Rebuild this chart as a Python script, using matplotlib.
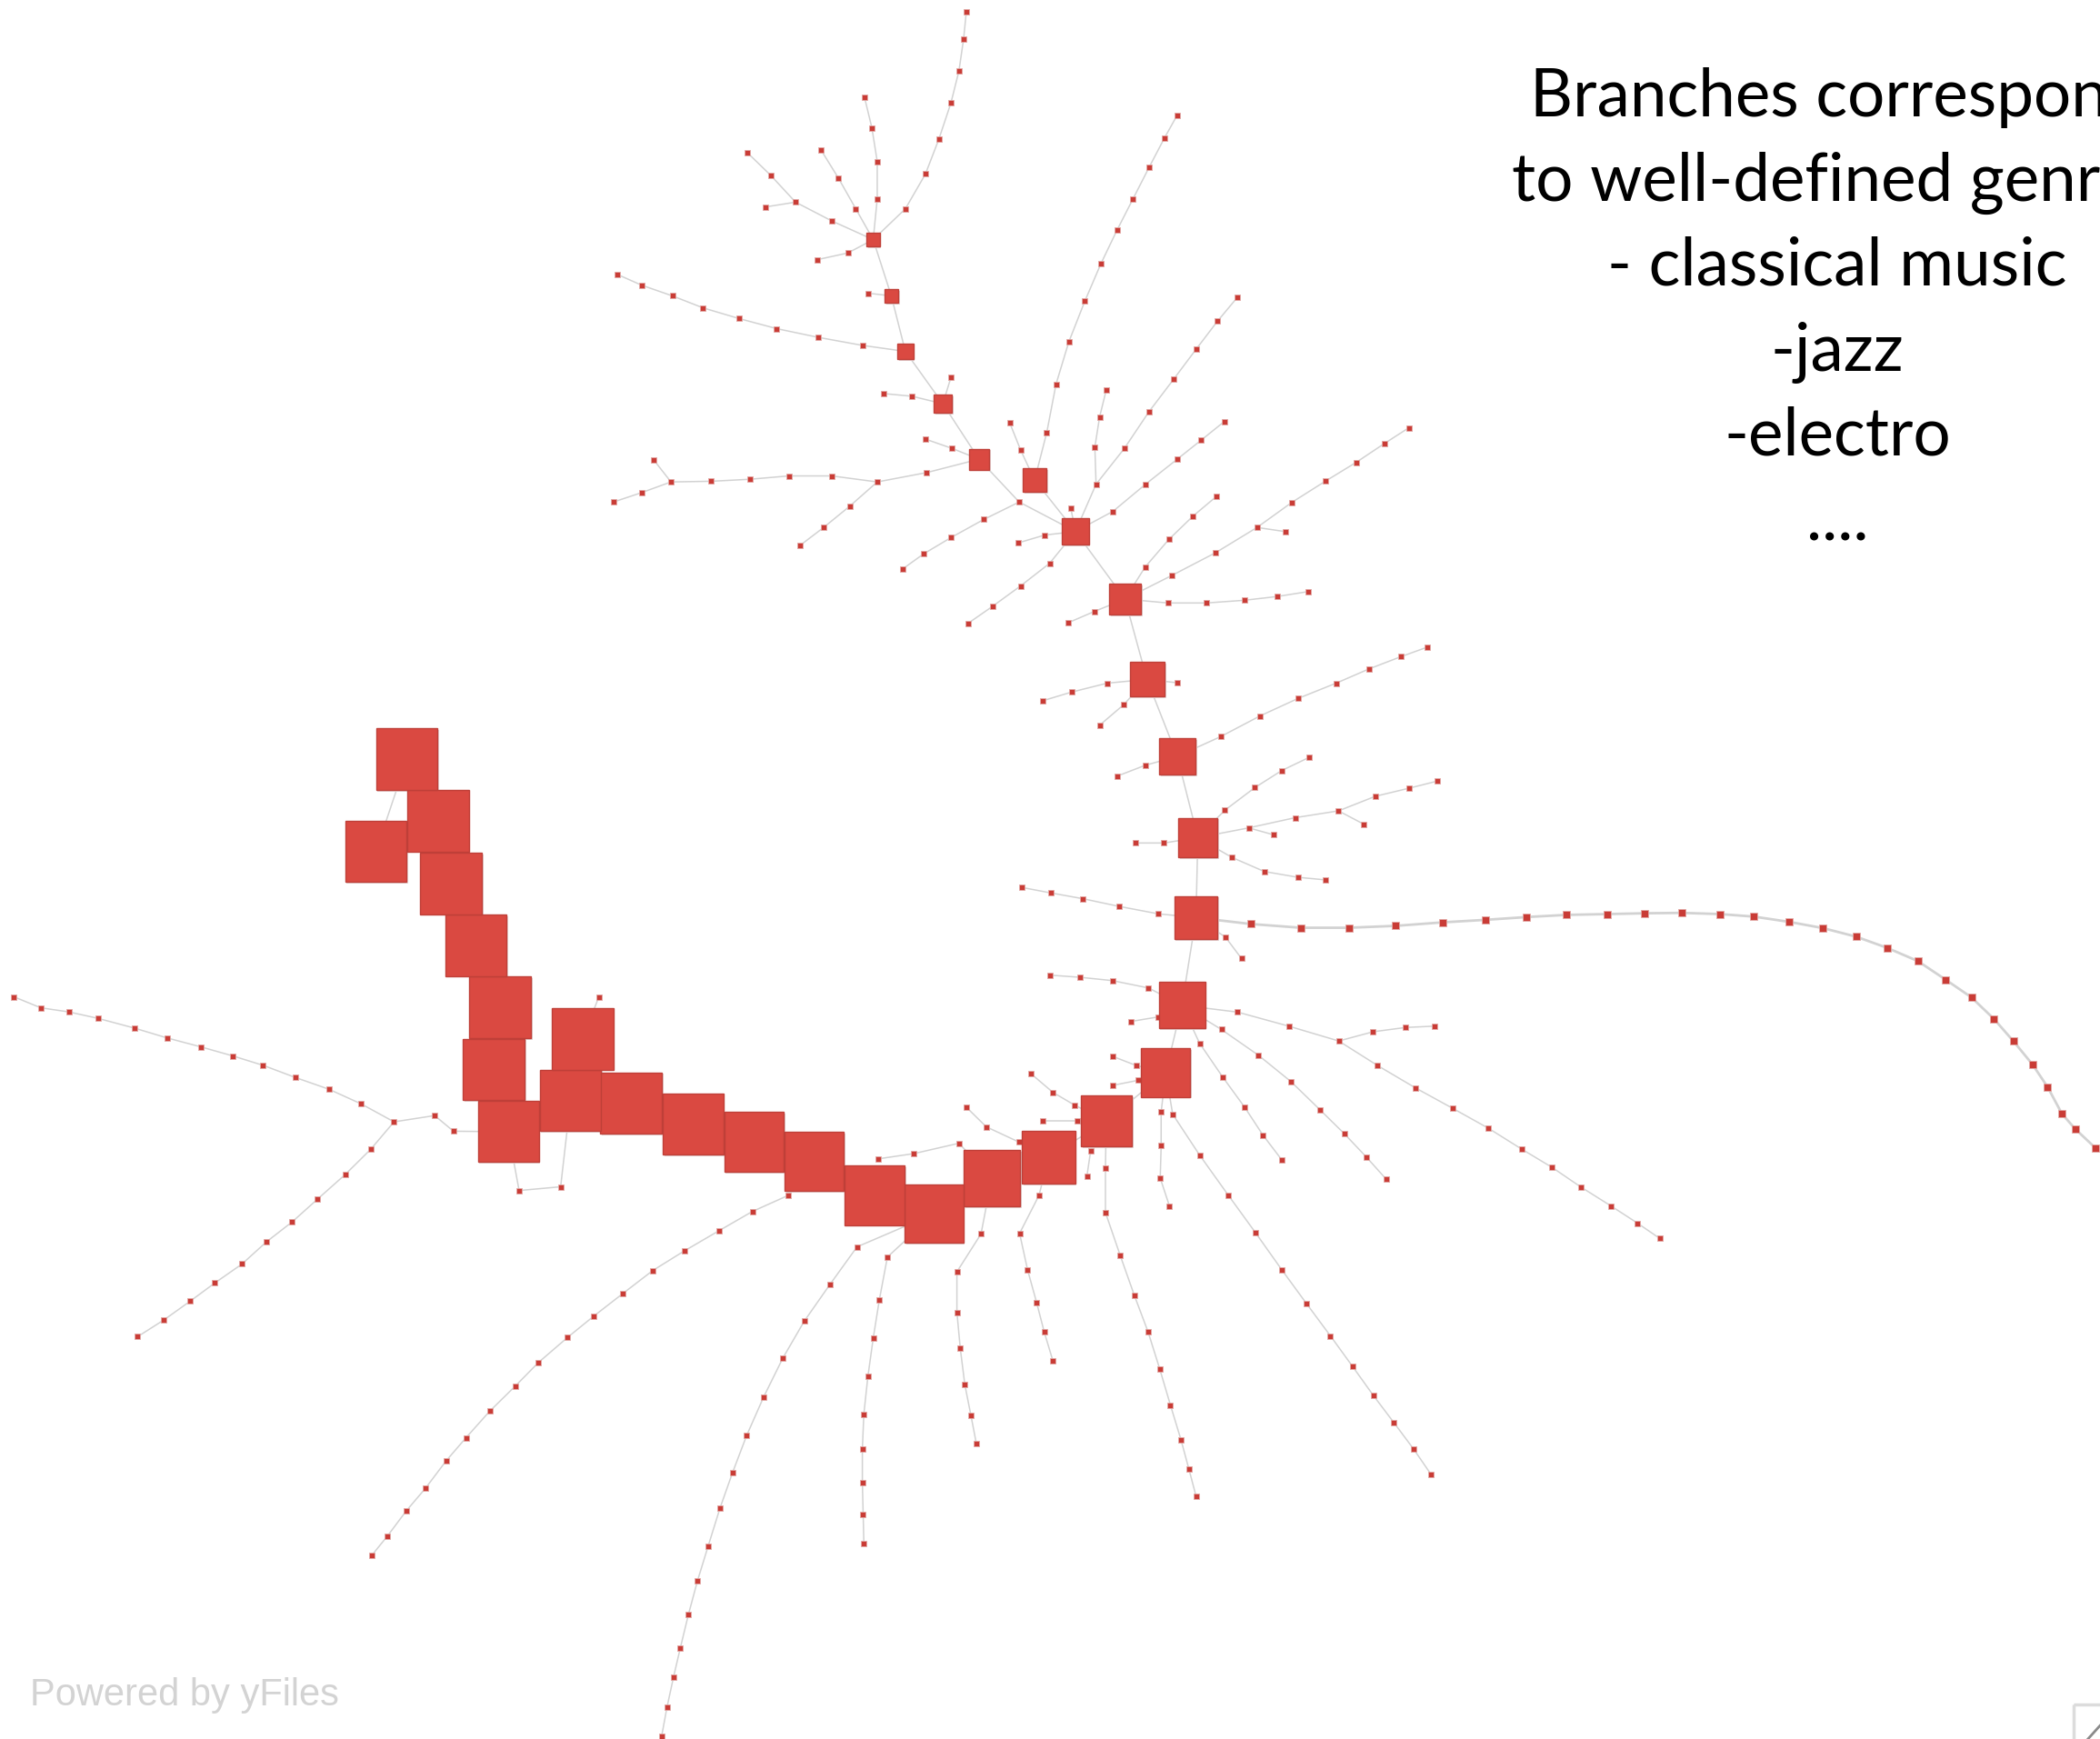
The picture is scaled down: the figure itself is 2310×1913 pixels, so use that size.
import matplotlib
matplotlib.use("Agg")
import matplotlib.pyplot as plt
from matplotlib.patches import Rectangle

# Layout units are the pixels of the 1568x1299 screenshot of the yFiles view.
W, H = 1568, 1299

# Backbone ("hub") nodes: centre and side length of each square
hub_x = [652, 665.5, 676, 704, 731, 772.5, 803, 840, 856.4, 879, 894.4, 893,
         882.5, 870.4, 826, 783, 740.5, 697.5, 653, 608, 563, 517.6, 471, 426,
         435, 379.5, 368.8, 373.4, 355.3, 336.6, 327, 280.7, 303.8]
hub_y = [179, 221, 262.5, 301.6, 343, 358.6, 397, 447.5, 507.5, 565, 625.7, 685.4,
         750.9, 801.1, 837.5, 864.2, 880, 906.7, 892.8, 867.6, 853, 839.7, 824, 822,
         776, 845.4, 798.9, 752.6, 706, 659.8, 613, 636, 567]
hub_side = [9.7, 10, 11.8, 13.3, 15.5, 18, 19.7, 23.4, 25.9, 27.3, 29.6, 32.4,
            34.5, 36.5, 38, 39.5, 42.3, 43.6, 44.5, 44.3, 44.6, 45, 46, 46,
            46, 45.5, 46, 46, 46, 46, 46, 46, 46]
hub_edges = [(0, 1), (1, 2), (2, 3), (3, 4), (5, 6), (6, 7), (7, 8), (8, 9),
             (9, 10), (10, 11), (11, 12), (12, 13), (13, 14), (14, 15), (15, 16),
             (16, 17), (17, 18), (18, 19), (19, 20), (20, 21), (21, 22), (22, 23),
             (23, 24), (23, 25), (25, 26), (26, 27), (27, 28), (28, 29), (29, 30),
             (30, 32), (32, 31)]

# Leaf chains; the first point of each is the node it hangs from
branches_top = [
    [(652, 179), (676, 156), (691, 130), (701, 104), (710, 77), (716, 53), (719.5, 29), (721.5, 9)],
    [(652, 179), (655, 148.5), (655, 120.6), (651, 95.5), (645.5, 72.7)],
    [(652, 179), (639, 156), (626, 133), (613, 112)],
    [(652, 179), (621, 165), (594, 151), (575.5, 131), (558, 114)],
    [(594, 151), (571.5, 154.6)],
    [(652, 179), (633, 189), (610, 194)],
    [(665.5, 221), (648, 219)],
    [(676, 262.5), (644, 258), (611, 252), (580, 245.5), (552, 238), (525, 230),
     (502, 221), (479, 213), (461, 205)],
    [(704, 301.6), (710, 282)],
    [(704, 301.6), (681, 296), (660, 294)],
    [(731, 343), (711, 335), (691, 328)],
    [(731, 343), (692, 353), (655, 360), (621, 355.5), (589, 355.5), (560, 358),
     (531, 359.5), (501, 360), (479, 368), (458, 375)],
    [(501, 360), (488, 343.4)],
    [(655, 360), (634.6, 378), (615, 394), (597, 407.7)],
    [(731, 343), (761, 375), (803, 397)],
    [(761, 375), (734.6, 388), (710, 401.6), (689.7, 413.7), (674, 425)],
    [(772.5, 358.6), (781.6, 323), (788.5, 287), (798, 255.5), (810, 225), (822, 197),
     (834, 172), (846, 148.5), (858, 125), (869.5, 103), (879, 86)],
    [(772.5, 358.6), (762, 336), (754, 316)],
    [(803, 397), (818.4, 361.7), (817.5, 334), (821, 311.6), (826, 291.3)],
    [(818.4, 361.7), (839.5, 335), (858, 307.4), (876.6, 282.9), (893, 261), (909, 240), (924, 222)],
    [(803, 397), (831, 382), (855, 362), (879, 343), (897, 328.7), (914, 315)],
    [(803, 397), (799.5, 379.4)],
    [(803, 397), (780, 399.7), (760, 405.6)],
    [(803, 397), (783.7, 420.8), (762, 437.7), (741, 453), (722.6, 465.8)],
]

branches_mid = [
    [(840, 447.5), (855, 423.6), (872.7, 403), (890.7, 385.6), (908.4, 370.7)],
    [(840, 447.5), (874.7, 430), (907.6, 412.9), (938.6, 394), (964.7, 375.2), (990, 359.2),
     (1012.6, 345.4), (1033.7, 331.3), (1052, 319.5)],
    [(938.6, 394), (959.7, 397.1)],
    [(840, 447.5), (872, 450.4), (900.8, 450.4), (929, 448.4), (953.5, 445.6), (976.8, 441.9)],
    [(840, 447.5), (817, 456.8), (797.3, 465.3)],
    [(856.4, 507.5), (826.8, 510.3), (800, 517), (778.4, 523.5)],
    [(856.4, 507.5), (839, 526.4), (821, 541.8)],
    [(856.4, 507.5), (879, 510)],
    [(879, 565), (911.3, 550.3), (940.8, 534.8), (969.5, 521.6), (997.7, 510.3),
     (1022.4, 499.6), (1045.8, 490.6), (1066, 483.3)],
    [(879, 565), (855, 571.7), (834, 579.8)],
    [(894.4, 625.7), (914.6, 605.2), (937, 588.3), (957, 575.6), (977.4, 565.8)],
    [(894.4, 625.7), (932.4, 618.4), (967, 610.8), (999.4, 605.7), (1027, 594.8),
     (1052, 588.8), (1073, 583.5)],
    [(999.4, 605.7), (1018.2, 615.6)],
    [(932.4, 618.4), (950.7, 623.5)],
    [(894.4, 625.7), (919.7, 640.4), (944, 651), (969, 655.3), (990, 657.3)],
    [(894.4, 625.7), (869, 629.7), (848, 629.7)],
    [(893, 685.4), (864.8, 682.6), (835.3, 677), (808.5, 671.3), (784.6, 667), (763, 662.9)],
    [(893, 685.4), (915, 700), (927, 716)],
]

# the long heavy chain running off to the right edge
tail_chain = [(893, 685.4), (933.8, 690.2), (971.2, 693), (1007, 693), (1042, 691.6),
              (1077, 689), (1109.3, 687.1), (1140, 685), (1169.8, 683.4), (1200, 682.8),
              (1228.2, 682.2), (1255.9, 681.9), (1284.5, 682.8), (1309.7, 684.7),
              (1335.8, 688.6), (1361.3, 693.3), (1386, 699.7), (1409, 708), (1432, 717.9),
              (1452.6, 731.7), (1472, 745), (1488.9, 761.2), (1503.4, 777.8), (1517.5, 795),
              (1528.9, 812), (1539.6, 832), (1549.5, 843.3), (1564.8, 857.7)]

branches_low = [
    [(882.5, 750.9), (857.6, 738), (830.6, 732.5), (806.3, 730), (783.8, 728.4)],
    [(882.5, 750.9), (865, 759.6), (844.4, 763)],
    [(882.5, 750.9), (924, 756), (962.2, 766.5), (999.6, 777.6), (1028.7, 796), (1056.8, 812.6),
     (1084.5, 827.8), (1111.2, 842.7), (1136.1, 858.3), (1159, 872.1), (1180.4, 886.7),
     (1203, 900.9), (1222.7, 913.7), (1239.3, 925.1)],
    [(999.6, 777.6), (1025.3, 770.7), (1049.5, 767.5), (1071.3, 766.5)],
    [(882.5, 750.9), (912, 769), (939.7, 788.3), (964, 808), (985.4, 828.8), (1003.8, 846.9),
     (1020.4, 864.5), (1035, 880.8)],
    [(882.5, 750.9), (895.7, 779.3), (913, 804.6), (929.3, 827), (943, 847.9), (957, 866.3)],
    [(870.4, 801.1), (875.6, 832.3), (895.7, 862.8), (917.2, 892.9), (937.3, 920.6), (957, 948.4),
     (975.4, 973.6), (993.4, 997.9), (1009.7, 1020.4), (1025.6, 1042.6), (1040.8, 1062.7),
     (1055.7, 1082.7), (1068.6, 1101.5)],
    [(870.4, 801.1), (867, 830.6), (867, 855.9), (866.3, 880), (873.2, 900.9)],
    [(870.4, 801.1), (848.6, 796), (830.6, 789)],
    [(870.4, 801.1), (849.6, 807), (830.6, 810.8)],
    [(826, 837.5), (802.2, 825.4), (786.2, 816), (770, 802.2)],
    [(826, 837.5), (804.6, 837.5), (778.6, 837.5)],
    [(826, 837.5), (825.4, 872.8), (825.4, 905.7), (836.5, 938), (846.9, 967.4), (857.3, 995.1),
     (866, 1022.8), (873.9, 1049.5), (881.8, 1075.5), (887.7, 1097.3), (893, 1117.4)],
    [(826, 837.5), (814.3, 860), (811.5, 879)],
    [(783, 864.2), (775.8, 892.9), (761.3, 921.3), (767.2, 948.3), (774.1, 973.3),
     (779.7, 995), (786.2, 1016.6)],
    [(783, 864.2), (760.6, 853), (736.4, 841.7), (721.5, 827)],
    [(740.5, 880), (732.5, 921.7), (714.5, 950), (714.5, 980.2), (717, 1007.2),
     (720.4, 1034.3), (725, 1057.5), (729, 1078.3)],
    [(740.5, 880), (716, 854), (682.4, 861.7), (656, 865.6)],
    [(697.5, 906.7), (662.6, 939), (656.6, 970.8), (652, 999.6), (648, 1028.4), (645, 1056.3),
     (643.9, 1082.3), (643.9, 1107.2), (644.5, 1131.4), (645, 1152.7)],
    [(697.5, 906.7), (639.9, 931.4), (619.6, 959.6), (600.5, 986.9), (584.4, 1014.7),
     (570.2, 1043.5), (557.5, 1072.3), (546.9, 1100.2), (537.5, 1126.8), (528.7, 1155.1),
     (520.8, 1180.8), (514.1, 1205.7), (508, 1230.9), (502.9, 1252.7), (498, 1275.4), (494, 1297)],
    [(608, 867.6), (588.4, 893), (561.7, 905), (536.9, 919.3), (511, 934.4), (487.5, 949),
     (465, 966.3), (443.5, 983), (423.8, 999), (402, 1017.8), (384.7, 1035.4), (365.6, 1054.2),
     (348, 1073.9), (333.2, 1091.1), (317.7, 1111.7), (303.5, 1128.4), (289.2, 1147.5),
     (277.7, 1161.7)],
]

branches_left = [
    [(379.5, 845.4), (387.6, 889.3), (418.6, 886.5), (426, 822)],
    [(379.5, 845.4), (338.6, 845), (324.6, 833.3), (294.2, 838)],
    [(294.2, 838), (269.7, 824.6), (245.5, 813.6), (220.4, 804.8), (196.5, 795.8), (174, 788.8),
     (150, 782), (124.7, 775.3), (100.5, 768), (73.2, 760.7), (51.5, 755.9), (30.4, 752.8),
     (10.4, 744.6)],
    [(294.2, 838), (276.7, 858.6), (257.6, 877.5), (237, 895.8), (218.2, 912.7), (199, 927.6),
     (180.7, 944.2), (160.5, 958.3), (142.2, 971.8), (122.5, 985.9), (102.7, 998.5)],
    [(435, 776), (447, 745)],
]

# the slide note is cut off by the right edge in the original screenshot
note_lines = ["Branches correspond", "to well-defined genres", "- classical music",
              "-jazz", "-electro", "...."]

EDGE = "#d2d2d2"
NODE = "#c93c36"
NODE_RIM = "#e2aaa6"
HUB = "#da4941"
HUB_RIM = "#bf3f38"


def draw_chain(ax, pts, lw, size, skip_last=False):
    xs = [p[0] for p in pts]
    ys = [p[1] for p in pts]
    ax.plot(xs, ys, color=EDGE, lw=lw, zorder=1, solid_capstyle="round")
    nx, ny = xs[1:], ys[1:]
    if skip_last:
        nx, ny = nx[:-1], ny[:-1]
    ax.scatter(nx, ny, s=size, marker="s", color=NODE, edgecolors=NODE_RIM,
               linewidths=0.6, zorder=2)


def main():
    fig = plt.figure(figsize=(23.1, 19.13), dpi=100)
    ax = fig.add_axes([0, 0, 1, 1])
    ax.set_xlim(0, W)
    ax.set_ylim(H, 0)
    ax.axis("off")

    for a, b in hub_edges:
        ax.plot([hub_x[a], hub_x[b]], [hub_y[a], hub_y[b]], color=EDGE, lw=1.1, zorder=1)

    for group in (branches_top, branches_mid, branches_low, branches_left):
        for pts in group:
            # chains that end on another hub should not get a dot there
            ends_on_hub = any(abs(pts[-1][0] - hx) < 0.5 and abs(pts[-1][1] - hy) < 0.5
                              for hx, hy in zip(hub_x, hub_y))
            draw_chain(ax, pts, 1.1, 13, skip_last=ends_on_hub)
    draw_chain(ax, tail_chain, 2.0, 36)

    # hubs: faint shadow then the red square
    for x, y, s in zip(hub_x, hub_y, hub_side):
        ax.add_patch(Rectangle((x - s / 2 + 1.2, y - s / 2 + 1.2), s, s,
                               facecolor="#e2d6d6", edgecolor="none", zorder=3))
        ax.add_patch(Rectangle((x - s / 2, y - s / 2), s, s, facecolor=HUB,
                               edgecolor=HUB_RIM, lw=1.0, zorder=4))

    baselines = [87, 150, 213, 277, 340, 404]
    for line, yb in zip(note_lines, baselines):
        ax.text(1372, yb, line, ha="center", va="baseline", fontsize=52.5,
                family=["Lato", "DejaVu Sans"], color="black", zorder=5)

    ax.text(22.5, 1274, "Powered by yFiles", ha="left", va="baseline", fontsize=30,
            family=["Liberation Sans", "DejaVu Sans"], color="#d3d3d3")

    # corner widget of the viewer
    ax.add_patch(Rectangle((1548, 1273), 30, 30, facecolor="none", edgecolor="#dcdcdc",
                           lw=2.5, zorder=5))
    ax.plot([1568, 1559], [1289, 1299], color="#8a8a8a", lw=2, zorder=5)

    fig.savefig("out.png", dpi=100)


if __name__ == "__main__":
    main()
